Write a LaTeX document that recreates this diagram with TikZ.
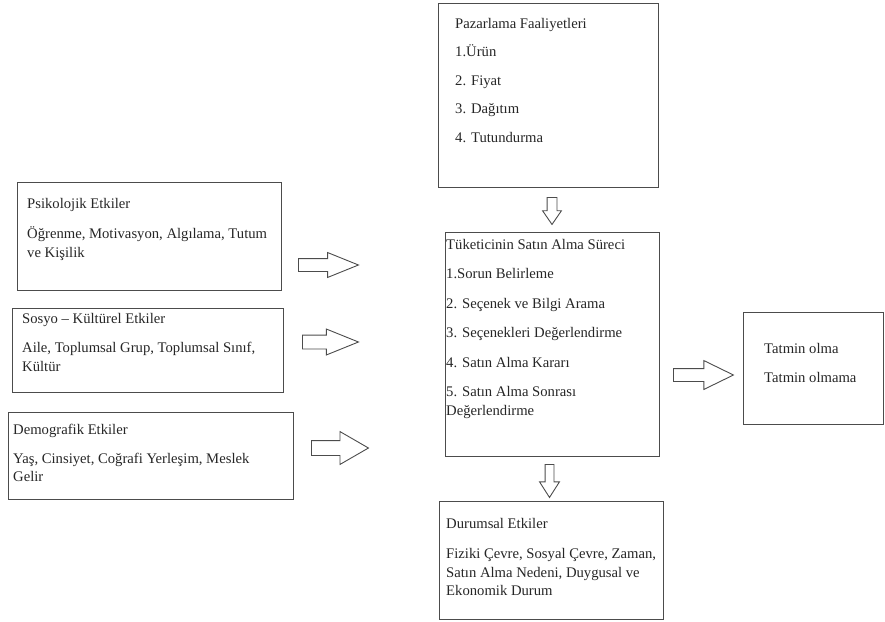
\documentclass[tikz,border=0pt]{standalone}
\usepackage{fontspec}
\setmainfont{Liberation Serif}
\usepackage{tikz}
\usetikzlibrary{shapes.arrows,positioning}

\begin{document}
\begin{tikzpicture}[x=1pt, y=-1pt,
panel/.style={draw=black!70, line width=1.1pt, anchor=north west, inner sep=0pt},
txt/.style={anchor=north west, inner sep=0pt, align=left, text=black!85, font=\rmfamily\fontsize{14.67}{18.5}\selectfont},
fatarrow/.style={single arrow, draw=black!70, line width=0.9pt, fill=white, anchor=tail, inner xsep=0pt, minimum height=60, single arrow tip angle=44},
downarrow/.style={fatarrow, shape border rotate=270, inner ysep=0pt}
]
\useasboundingbox (0,0) rectangle (885,621);
% boxes
\node[panel, minimum width=220, minimum height=184] (pazar) at (438,3) {};
\node[panel, minimum width=264, minimum height=108] (psiko) at (17,182) {};
\node[panel, minimum width=271, minimum height=84] (sosyo) at (12,308) {};
\node[panel, minimum width=285, minimum height=87] (demo) at (8,412) {};
\node[panel, minimum width=214, minimum height=224] (surec) at (445,232) {};
\node[panel, minimum width=140, minimum height=112] (tatmin) at (743,312) {};
\node[panel, minimum width=224, minimum height=118] (durum) at (439,501) {};
% texts
\node[txt] (pazartxt) at (455,15) {\strut Pazarlama Faaliyetleri\\[10pt] 1.Ürün\\[10pt] 2. Fiyat\\[10pt] 3. Dağıtım\\[10pt] 4. Tutundurma};
\node[txt] (psikotxt) at (27,195) {\strut Psikolojik Etkiler\\[12pt] Öğrenme, Motivasyon, Algılama, Tutum\\ ve Kişilik};
\node[txt] (sosyotxt) at (22,310) {\strut Sosyo -- Kültürel Etkiler\\[11pt] Aile, Toplumsal Grup, Toplumsal Sınıf,\\ Kültür};
\node[txt] (demotxt) at (13,421) {\strut Demografik Etkiler\\[10.5pt] Yaş, Cinsiyet, Coğrafi Yerleşim, Meslek\\ Gelir};
\node[txt] (surectxt) at (446,236) {\strut Tüketicinin Satın Alma Süreci\\[11pt] 1.Sorun Belirleme\\[11pt] 2. Seçenek ve Bilgi Arama\\[11pt] 3. Seçenekleri Değerlendirme\\[11pt] 4. Satın Alma Kararı\\[11pt] 5. Satın Alma Sonrası\\ Değerlendirme};
\node[txt] (tatmintxt) at (764,340) {\strut Tatmin olma\\[11pt] Tatmin olmama};
\node[txt] (durumtxt) at (446,515) {\strut Durumsal Etkiler\\[12pt] Fiziki Çevre, Sosyal Çevre, Zaman,\\ Satın Alma Nedeni, Duygusal ve\\ Ekonomik Durum};
% block arrows
\node[fatarrow, inner ysep=6pt, single arrow head extend=6pt] (okpsiko) at (298,265) {};
\node[fatarrow, inner ysep=6.5pt, single arrow head extend=6pt, minimum height=56] (oksosyo) at (302,342) {};
\node[fatarrow, inner ysep=7pt, single arrow head extend=9pt, minimum height=57, single arrow tip angle=60] (okdemo) at (311,448) {};
\node[fatarrow, inner ysep=6pt, single arrow head extend=8pt, single arrow tip angle=52] (oktatmin) at (673,375) {};
\node[downarrow, inner xsep=4.5pt, single arrow head extend=4.5pt, minimum height=27, single arrow tip angle=69] (okpazar) at (552,197) {};
\node[downarrow, inner xsep=4pt, single arrow head extend=5.5pt, minimum height=33, single arrow tip angle=65] (okdurum) at (549.5,464) {};
\end{tikzpicture}
\end{document}
